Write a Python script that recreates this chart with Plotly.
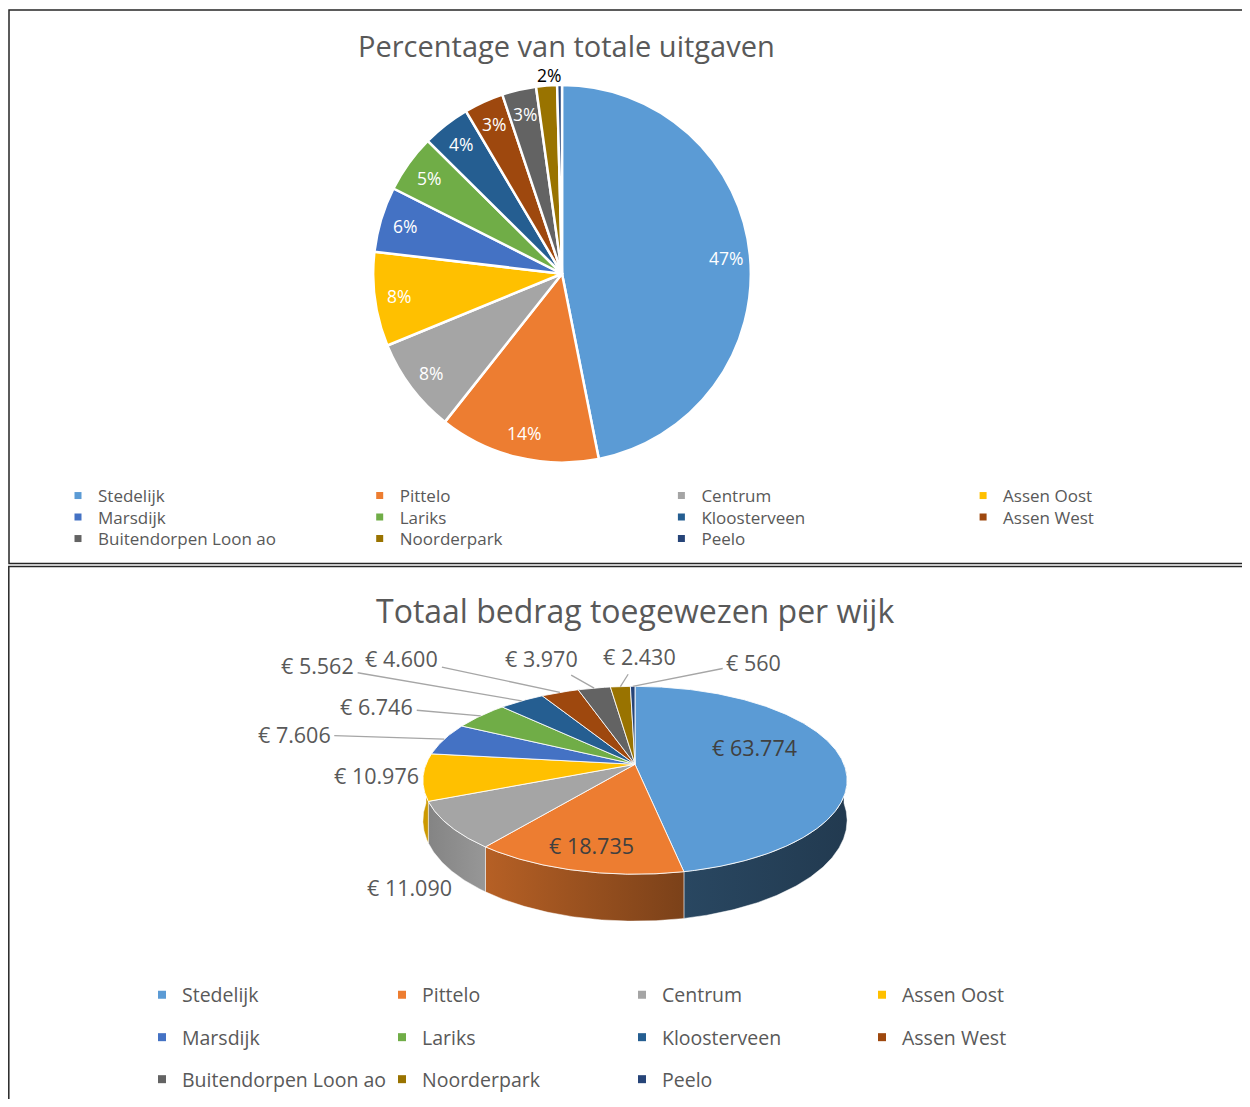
import numpy as np
import plotly.graph_objects as go

# ---------------- data ----------------
wijken = ["Stedelijk", "Pittelo", "Centrum", "Assen Oost", "Marsdijk", "Lariks",
          "Kloosterveen", "Assen West", "Buitendorpen Loon ao", "Noorderpark", "Peelo"]
bedragen = [63774, 18735, 11090, 10976, 7606, 6746, 5562, 4600, 3970, 2430, 560]
kleuren = ["#5B9BD5", "#ED7D31", "#A5A5A5", "#FFC000", "#4472C4", "#70AD47",
           "#255E91", "#9E480E", "#636363", "#997300", "#264478"]
titel_boven = "Percentage van totale uitgaven"
titel_onder = "Totaal bedrag toegewezen per wijk"

# ---------------- styling / layout constants ----------------
OFF = 8                      # body margin of the html page
W, H = 1234, 1091
FONT = "Open Sans, Noto Sans, sans-serif"
GRIJS = "#595959"

# side shading factors (left, right) for the 3D pie side walls
zij_factoren = [(0.46, 0.38), (0.77, 0.52), (0.80, 0.92), (0.80, 0.80), (0.7, 0.6), (0.7, 0.6),
                (0.7, 0.6), (0.7, 0.6), (0.7, 0.6), (0.7, 0.6), (0.7, 0.6)]
# label offsets (px) from the rim-midpoint of each slice for the 3D pie, and whether a leader line is drawn
label_offset = [(-85, -8), (15, -25), (-40, 62), (-47, -1), (-150, -5), (-104, -9),
                (-204, -35), (-158, -34), (-53, -30), (19, -30), (121, -24)]
leader = [False, False, False, False, True, True, True, True, True, True, True]


def fx(X):
    return (X - OFF) / W


def fy(Y):
    return 1 - (Y - OFF) / H


def shade(hexc, f):
    h = hexc.lstrip("#")
    r, g, b = (int(h[i:i + 2], 16) for i in (0, 2, 4))
    return "#%02x%02x%02x" % (min(255, int(r * f)), min(255, int(g * f)), min(255, int(b * f)))


totaal = sum(bedragen)
fracties = np.array(bedragen) / totaal
eindes = np.cumsum(fracties) * 360
starts = np.concatenate([[0.0], eindes[:-1]])
midden = (starts + eindes) / 2

fig = go.Figure()

# ---------------- top: flat pie ----------------
P_CX, P_CY, P_R = 562, 274, 189
fig.add_trace(go.Pie(
    labels=wijken, values=bedragen, sort=False, direction="clockwise", rotation=0,
    marker=dict(colors=kleuren, line=dict(color="white", width=2.5)),
    textinfo="none", hoverinfo="label+percent+value", showlegend=False,
    domain=dict(x=[fx(P_CX - P_R), fx(P_CX + P_R)], y=[fy(P_CY + P_R), fy(P_CY - P_R)]),
))

annotations = []
for i in range(len(wijken)):
    pct = int(round(fracties[i] * 100))
    if pct == 0:
        continue
    inside = fracties[i] >= 0.025
    r = 0.87 * P_R if inside else 1.055 * P_R
    a = np.radians(midden[i])
    annotations.append(dict(
        x=P_CX + r * np.sin(a) + (0 if inside else 3), y=P_CY - r * np.cos(a), xref="x", yref="y",
        text=f"{pct}%", showarrow=False,
        font=dict(family=FONT, size=17.5, color="white" if inside else "black"),
    ))

# ---------------- bottom: 3D pie ----------------
CX3, CY3, AX3, AY3, PERSP, DIEPTE = 635, 765, 209, 91.3, 0.17, 39


def proj(phi, rf=1.0, drop=0.0):
    p = np.radians(phi)
    X = rf * np.sin(p)
    D = rf * np.cos(p)
    s = 1 / (1 + PERSP * D)
    return CX3 + AX3 * X * s, CY3 - AY3 * D * s + drop * s


def arc(a0, a1, drop=0.0):
    n = max(int(abs(a1 - a0) * 2) + 2, 3)
    ph = np.linspace(a0, a1, n)
    return proj(ph, 1.0, drop)


# side walls (front half only)
for i in range(len(wijken)):
    a0 = max(starts[i], 90.0)
    a1 = min(eindes[i], 270.0)
    if a1 <= a0:
        continue
    xt, yt = arc(a0, a1)
    xb, yb = arc(a1, a0, DIEPTE)
    xs = np.concatenate([xt, xb, xt[:1]])
    ys = np.concatenate([yt, yb, yt[:1]])
    fl, fr = zij_factoren[i]
    fig.add_trace(go.Scatter(
        x=xs, y=ys, mode="lines", fill="toself",
        line=dict(color="rgba(255,255,255,0.6)", width=0.8),
        fillgradient=dict(type="horizontal",
                          colorscale=[[0, shade(kleuren[i], fl)], [1, shade(kleuren[i], fr)]]),
        hoverinfo="skip", showlegend=False,
    ))

# top faces
apex_x, apex_y = proj(0.0, 0.0)
for i in range(len(wijken)):
    xa, ya = arc(starts[i], eindes[i])
    xs = np.concatenate([[apex_x], xa, [apex_x]])
    ys = np.concatenate([[apex_y], ya, [apex_y]])
    fig.add_trace(go.Scatter(
        x=xs, y=ys, mode="lines", fill="toself", fillcolor=kleuren[i],
        line=dict(color="rgba(255,255,255,0.85)", width=1),
        name=wijken[i], hoverinfo="name", showlegend=False,
    ))

# value labels
for i in range(len(wijken)):
    rx, ry = proj(midden[i], 1.0)
    dx, dy = label_offset[i]
    tekst = "€ " + f"{bedragen[i]:,}".replace(",", ".")
    annotations.append(dict(
        x=rx, y=ry, xref="x", yref="y", ax=dx, ay=dy, axref="pixel", ayref="pixel",
        text=tekst, showarrow=True, arrowhead=0, standoff=0, startstandoff=2,
        arrowwidth=1.3, arrowcolor="#A6A6A6" if leader[i] else "rgba(0,0,0,0)",
        font=dict(family=FONT, size=21.5, color="#404040" if i < 2 else GRIJS),
    ))

# titles
annotations.append(dict(x=566, y=46, xref="x", yref="y", text=titel_boven, showarrow=False,
                        font=dict(family=FONT, size=29, color=GRIJS)))
annotations.append(dict(x=635, y=611, xref="x", yref="y", text=titel_onder, showarrow=False,
                        font=dict(family=FONT, size=32, color=GRIJS)))

# ---------------- legends (one per entry, placed on a grid) ----------------
legend_layout = {}
grids = [
    dict(x0=98, dx=301.7, y0=496, dy=21.5, fs=17, ms=7),       # top chart
    dict(x0=182, dx=240, y0=995, dy=42.5, fs=19.5, ms=8),      # bottom chart
]
k = 0
for g in grids:
    for i, naam in enumerate(wijken):
        k += 1
        lid = "legend" if k == 1 else f"legend{k}"
        col, row = i % 4, i // 4
        fig.add_trace(go.Scatter(
            x=[None], y=[None], mode="markers", name=naam, legend=lid,
            marker=dict(symbol="square", size=g["ms"], color=kleuren[i]),
            showlegend=True, hoverinfo="skip",
        ))
        legend_layout[lid] = dict(
            x=fx(g["x0"] + col * g["dx"] - 40), xanchor="left",
            y=fy(g["y0"] + row * g["dy"]), yanchor="middle",
            orientation="v", bgcolor="rgba(0,0,0,0)", borderwidth=0,
            font=dict(family=FONT, size=g["fs"], color=GRIJS),
            itemclick=False, itemdoubleclick=False,
        )

# ---------------- borders ----------------
shapes = [
    dict(type="rect", xref="paper", yref="paper", x0=fx(9), x1=fx(1262), y0=fy(564), y1=fy(10),
         line=dict(color="#262626", width=1.5), fillcolor="rgba(0,0,0,0)", layer="below"),
    dict(type="rect", xref="paper", yref="paper", x0=fx(8.8), x1=fx(1262), y0=fy(1115), y1=fy(567),
         line=dict(color="#262626", width=1.5), fillcolor="rgba(0,0,0,0)", layer="below"),
]

fig.update_layout(
    width=W, height=H, autosize=False,
    margin=dict(l=0, r=0, t=0, b=0, pad=0),
    paper_bgcolor="white", plot_bgcolor="white",
    xaxis=dict(range=[OFF, OFF + W], visible=False, fixedrange=True),
    yaxis=dict(range=[OFF + H, OFF], visible=False, fixedrange=True),
    annotations=annotations, shapes=shapes,
    hovermode="closest",
    **legend_layout,
)

fig.write_html("out.html")
